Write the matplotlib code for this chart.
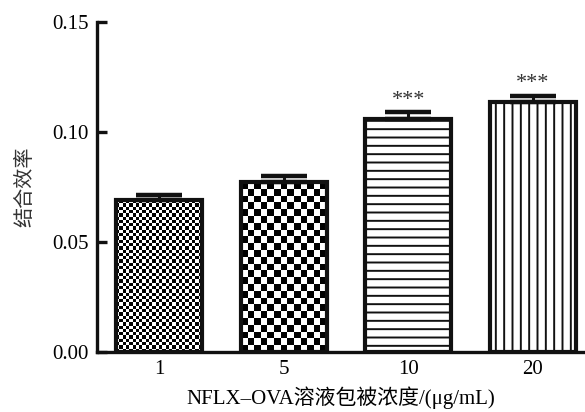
import numpy as np
import matplotlib.pyplot as plt

plt.rcParams['font.family'] = ['Liberation Serif', 'Noto Sans CJK SC']
plt.rcParams['hatch.linewidth'] = 1.4

categories = ['1', '5', '10', '20']
values = [0.069, 0.077, 0.106, 0.1135]
errors = [0.0025, 0.0028, 0.0028, 0.0028]
marks = ['', '', '***', '***']

fig = plt.figure(figsize=(5.85, 4.12), dpi=100)
ax = fig.add_axes([0.166, 0.146, 0.834, 0.801])
x = np.arange(len(categories))
ax.set_xlim(-0.5, 3.42)
ax.set_ylim(0, 0.15)

bars = ax.bar(x, values, width=0.69, color='white', edgecolor='#111111',
              linewidth=3.0, zorder=3)
bars[2].set_hatch('--')
bars[3].set_hatch('||')

# checkerboard fill for the first two bars
cell_px = [3.3, 6.7]
for b, cp in zip(bars[:2], cell_px):
    b.set_facecolor('none')
    x0, y0 = b.get_x(), 0
    x1, y1 = b.get_x() + b.get_width(), b.get_height()
    (px0, py0), (px1, py1) = ax.transData.transform([(x0, y0), (x1, y1)])
    nx = int(round((px1 - px0) / cp))
    ny = int(round((py1 - py0) / cp))
    grid = (np.add.outer(np.arange(ny), np.arange(nx)) % 2).astype(float)
    im = ax.imshow(grid, cmap='gray', vmin=0, vmax=1, extent=(x0, x1, y0, y1),
                   origin='lower', aspect='auto', interpolation='nearest', zorder=2.5)
    im.set_clip_path(b)
ax.set_aspect('auto')
ax.set_xlim(-0.5, 3.42)
ax.set_ylim(0, 0.15)

ax.errorbar(x, values, yerr=[np.zeros(4), errors], fmt='none', ecolor='#111111',
            elinewidth=2.2, capsize=16.5, capthick=3.2, zorder=4)

for xi, v, e, m in zip(x, values, errors, marks):
    if m:
        ax.text(xi, v + e + 0.0012, m, ha='center', va='bottom', fontsize=16,
                color='#333333')

ax.spines['top'].set_visible(False)
ax.spines['right'].set_visible(False)
ax.spines['left'].set_linewidth(2.4)
ax.spines['bottom'].set_linewidth(2.4)
ax.spines['left'].set_color('#111111')
ax.spines['bottom'].set_color('#111111')

ax.set_yticks([0, 0.05, 0.10, 0.15])
ax.set_yticklabels(['0.00', '0.05', '0.10', '0.15'])
ax.set_xticks(x)
ax.set_xticklabels(categories)
ax.tick_params(axis='y', direction='in', length=7, width=2.4, labelsize=15,
               pad=6, color='#111111')
ax.tick_params(axis='x', length=0, labelsize=15, pad=6)

ax.set_xlabel('NFLX–OVA溶液包被浓度/(μg/mL)', fontsize=15, labelpad=5)
ax.set_ylabel('结合效率', fontsize=14.5, labelpad=12, color='#333333')

fig.savefig('out.png', dpi=100)
